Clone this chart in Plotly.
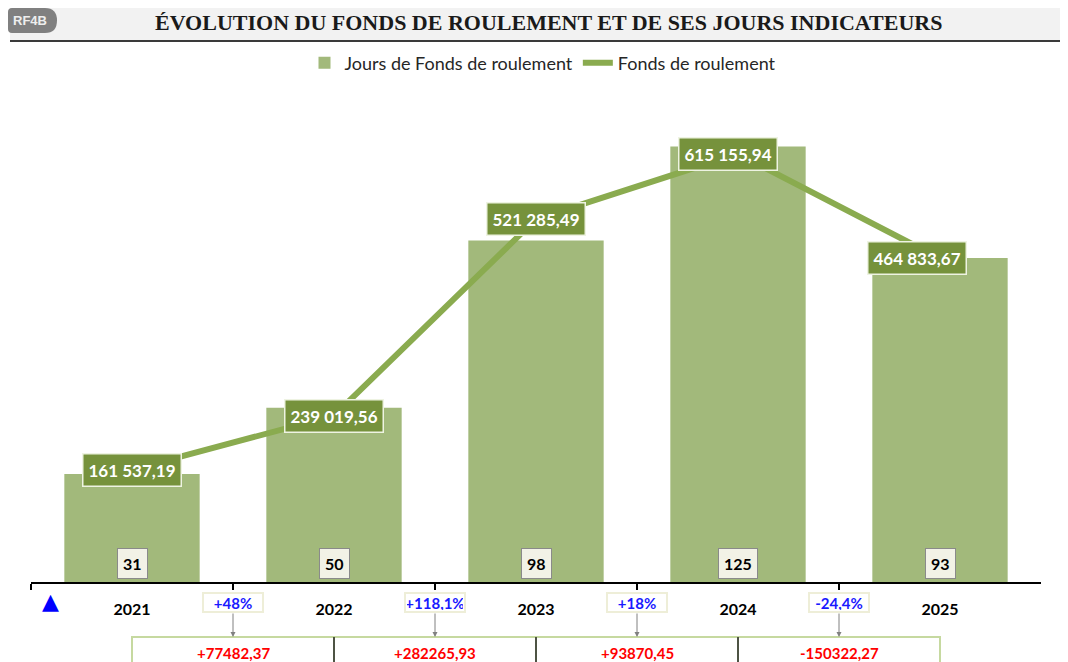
import plotly.graph_objects as go

# ---------------- data ----------------
years = ["2021", "2022", "2023", "2024", "2025"]
jours = [31, 50, 98, 125, 93]
fonds = [161537.19, 239019.56, 521285.49, 615155.94, 464833.67]
bar_name = "Jours de Fonds de roulement"
line_name = "Fonds de roulement"
title_text = "ÉVOLUTION DU FONDS DE ROULEMENT ET DE SES JOURS INDICATEURS"
badge_text = "RF4B"

# label nudges (style only)
label_xshift = [0, 0, 0, -10, -23]

# ---------------- geometry helpers ----------------
OFF = 8                     # page body margin
W, H = 1068 - OFF, 662 - OFF
PX_L, PX_R = 31, 1041
PY_TOP, PY_BASE = 100, 582


def px(x):
    return (x - OFF) / W


def py(y):
    return 1 - (y - OFF) / H


def fr_num(v):
    return f"{v:,.2f}".replace(",", " ").replace(".", ",")


def fr_pct(p):
    s = f"{p:+.1f}"
    if s.endswith(".0"):
        s = s[:-2]
    return s.replace(".", ",") + "%"


FONT = "Lato"
plot_h = PY_BASE - PY_TOP
y1_max = plot_h / 3.485
y2_max = plot_h / 0.000696

fig = go.Figure()
fig.add_trace(go.Bar(
    x=years, y=jours, name=bar_name, width=0.67,
    marker=dict(color="#a2b97b", line=dict(width=0)),
    yaxis="y",
))
fig.add_trace(go.Scatter(
    x=years, y=fonds, name=line_name, mode="lines",
    line=dict(color="#8aab4f", width=6),
    yaxis="y2",
))

shapes = []
annotations = []


def ann(**kw):
    kw.setdefault("xanchor", "center")
    kw.setdefault("yanchor", "middle")
    kw.setdefault("showarrow", False)
    annotations.append(kw)


# header band
shapes.append(dict(type="rect", xref="paper", yref="paper",
                   x0=px(10), x1=1, y0=py(40), y1=py(6),
                   fillcolor="#f2f2f2", line=dict(width=0), layer="below"))
shapes.append(dict(type="line", xref="paper", yref="paper",
                   x0=px(10), x1=1, y0=py(41), y1=py(41),
                   line=dict(color="#3a3a3a", width=2)))

# badge (pill)
bx0, bx1, by0, by1, r = 8, 57, 8, 33, 12
path = (f"M {px(bx0 + 4)} {py(by0)} L {px(bx1 - r)} {py(by0)} "
        f"Q {px(bx1)} {py(by0)} {px(bx1)} {py((by0 + by1) / 2)} "
        f"Q {px(bx1)} {py(by1)} {px(bx1 - r)} {py(by1)} "
        f"L {px(bx0 + 4)} {py(by1)} "
        f"Q {px(bx0)} {py(by1)} {px(bx0)} {py(by1 - 4)} "
        f"L {px(bx0)} {py(by0 + 4)} "
        f"Q {px(bx0)} {py(by0)} {px(bx0 + 4)} {py(by0)} Z")
shapes.append(dict(type="path", xref="paper", yref="paper", path=path,
                   fillcolor="#808080", line=dict(width=0)))
ann(xref="paper", yref="paper", x=px(30), y=py(21),
    text=f"<b>{badge_text}</b>",
    font=dict(family="Liberation Sans", size=13, color="#eeeeee"))

# title
ann(xref="paper", yref="paper", x=px(548), y=py(22),
    text=f"<b>{title_text}</b>",
    font=dict(family="Liberation Serif", size=22, color="#1a1a1a"))

# line value labels
for i, v in enumerate(fonds):
    ann(x=i, y=v, xref="x", yref="y2", xshift=label_xshift[i],
        text=f"<b>{fr_num(v)}</b>",
        bgcolor="#76923c", bordercolor="#eef3e2", borderwidth=1.5,
        borderpad=5,
        font=dict(family=FONT, size=17, color="white"))

# bar value labels
for i, v in enumerate(jours):
    ann(x=i, y=0, xref="x", yref="y", yshift=19,
        text=f"<b>{v}</b>",
        bgcolor="#f2f2e6", bordercolor="#8a8a8a", borderwidth=1,
        borderpad=5,
        font=dict(family=FONT, size=16, color="black"))

# variations under the axis
for i in range(len(fonds) - 1):
    pct = (fonds[i + 1] - fonds[i]) / fonds[i] * 100
    diff = fonds[i + 1] - fonds[i]
    xm = i + 0.5
    shapes.append(dict(type="rect", xref="x", yref="paper",
                       x0=i, x1=i + 1, y0=py(672), y1=py(637),
                       fillcolor="white", line=dict(color="#c6d9a0", width=2)))
    ann(x=xm, y=py(602), xref="x", yref="paper",
        text=f"<b>{fr_pct(pct)}</b>",
        bgcolor="white", bordercolor="#eeeed8", borderwidth=2,
        width=56, height=15, borderpad=1,
        font=dict(family=FONT, size=15, color="#1a1aff"))
    annotations.append(dict(x=xm, y=py(637), xref="x", yref="paper",
                            text="", showarrow=True, ax=0, ay=-25,
                            arrowhead=2, arrowsize=1, arrowwidth=1,
                            arrowcolor="#808080"))
    ann(x=xm, y=py(653), xref="x", yref="paper",
        text=f"<b>{diff:+.2f}</b>".replace(".", ","),
        font=dict(family=FONT, size=15, color="#ff0000"))

for i in range(1, len(fonds) - 1):
    shapes.append(dict(type="line", xref="x", yref="paper",
                       x0=i, x1=i, y0=py(662), y1=py(637),
                       line=dict(color="#262626", width=1.5)))

# blue triangle marker
ann(xref="paper", yref="paper", x=px(50), y=py(601),
    text="▲", font=dict(family="DejaVu Sans", size=22, color="#0000ff"))

fig.update_layout(
    width=W, height=H,
    margin=dict(l=0, r=0, t=0, b=0),
    paper_bgcolor="white", plot_bgcolor="white",
    showlegend=True,
    legend=dict(orientation="h", x=px(543), xanchor="center",
                y=py(63), yanchor="middle",
                font=dict(family=FONT, size=18, color="#262626"),
                bgcolor="rgba(0,0,0,0)"),
    xaxis=dict(domain=[px(PX_L), px(PX_R)], type="category",
               range=[-0.5, 4.5], tickson="boundaries",
               ticks="outside", ticklen=6, tickwidth=2, tickcolor="black",
               showline=True, linecolor="black", linewidth=2,
               showgrid=False, zeroline=False, ticklabelstandoff=12,
               tickfont=dict(family=FONT, size=16, color="black"),
               tickprefix="<b>", ticksuffix="</b>"),
    yaxis=dict(domain=[py(PY_BASE), py(PY_TOP)], range=[0, y1_max],
               visible=False, showgrid=False, zeroline=False),
    yaxis2=dict(domain=[py(PY_BASE), py(PY_TOP)], range=[0, y2_max],
                overlaying="y", visible=False, showgrid=False, zeroline=False),
    shapes=shapes,
    annotations=annotations,
    bargap=0.33,
)

fig.write_html("out.html")
